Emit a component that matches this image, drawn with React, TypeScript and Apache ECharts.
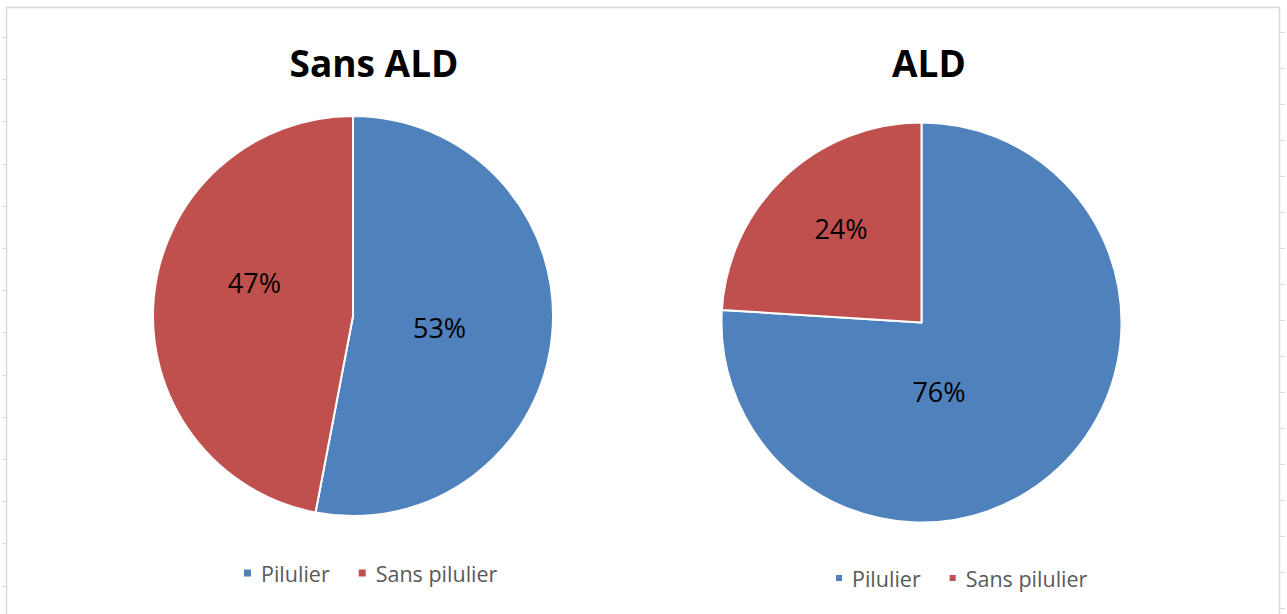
import React, { useEffect, useRef } from "react";
import * as echarts from "echarts";

const categories = ["Pilulier", "Sans pilulier"];
const chartTitles = ["Sans ALD", "ALD"];
const sansAldValues = [53, 47];
const aldValues = [76, 24];

const colors = ["#4F81BD", "#C0504D"];
const labelOffsets = [
  [[-16, 2], [4, -24]],
  [[-53, -6], [-10, -19]],
];

export default function App() {
  const ref = useRef<HTMLDivElement>(null);
  useEffect(() => {
    const chart = echarts.init(ref.current!, null, { renderer: "svg" });
    const font = "'Open Sans', 'Noto Sans', sans-serif";
    const mk = (vals: number[], idx: number) =>
      vals.map((v, i) => ({
        name: categories[i],
        value: v,
        itemStyle: { color: colors[i] },
        label: { offset: labelOffsets[idx][i] },
      }));
    const graphics: any[] = [];
    graphics.push({
      type: "polyline",
      shape: { points: [[6.5, 620], [6.5, 7.5], [1279.5, 7.5], [1279.5, 620]] },
      style: { stroke: "#d9d9d9", fill: "none", lineWidth: 1.5 },
      silent: true,
    });
    for (let k = 0; k < 14; k++) {
      const y = Math.round(37 + k * 42.2) + 0.5;
      graphics.push({
        type: "line",
        shape: { x1: 2, y1: y, x2: 6, y2: y },
        style: { stroke: "#d9d9d9", lineWidth: 1 },
        silent: true,
      });
    }
    for (let k = 0; k < 17; k++) {
      const y = 32 + k * 36 + 0.5;
      graphics.push({
        type: "line",
        shape: { x1: 1280, y1: y, x2: 1285, y2: y },
        style: { stroke: "#d9d9d9", lineWidth: 1 },
        silent: true,
      });
    }
    const legendText = {
      fontFamily: font,
      fontSize: 21.5,
      color: "#595959",
      padding: [0, 0, 0, 4],
    };
    const titleText = { fontFamily: font, fontWeight: "bold", fontSize: 37, color: "#000" };
    const labelStyle = {
      position: "inside",
      formatter: "{c}%",
      fontFamily: font,
      fontSize: 27,
      color: "#000",
    };
    chart.setOption({
      animation: false,
      backgroundColor: "#ffffff",
      title: [
        { text: chartTitles[0], left: 369, top: 39, textAlign: "center", textStyle: titleText },
        { text: chartTitles[1], left: 924, top: 39, textAlign: "center", textStyle: titleText },
      ],
      legend: [
        {
          data: categories,
          left: 237,
          top: 557,
          icon: "rect",
          itemWidth: 9,
          itemHeight: 9,
          itemGap: 27,
          textStyle: legendText,
        },
        {
          data: categories,
          left: 829,
          top: 562,
          icon: "rect",
          itemWidth: 8,
          itemHeight: 8,
          itemGap: 27,
          textStyle: legendText,
        },
      ],
      graphic: graphics,
      series: [
        {
          type: "pie",
          center: [353, 316],
          radius: 200,
          startAngle: 90,
          clockwise: true,
          data: mk(sansAldValues, 0),
          itemStyle: { borderColor: "#fff", borderWidth: 2 },
          label: labelStyle,
          labelLine: { show: false },
          emphasis: { disabled: true },
        },
        {
          type: "pie",
          center: [921.5, 322.5],
          radius: 200,
          startAngle: 90,
          clockwise: true,
          data: mk(aldValues, 1),
          itemStyle: { borderColor: "#fff", borderWidth: 2 },
          label: labelStyle,
          labelLine: { show: false },
          emphasis: { disabled: true },
        },
      ],
    });
    return () => chart.dispose();
  }, []);
  return (
    <div
      ref={ref}
      style={{ position: "fixed", left: 0, top: 0, width: 1287, height: 614 }}
    />
  );
}
